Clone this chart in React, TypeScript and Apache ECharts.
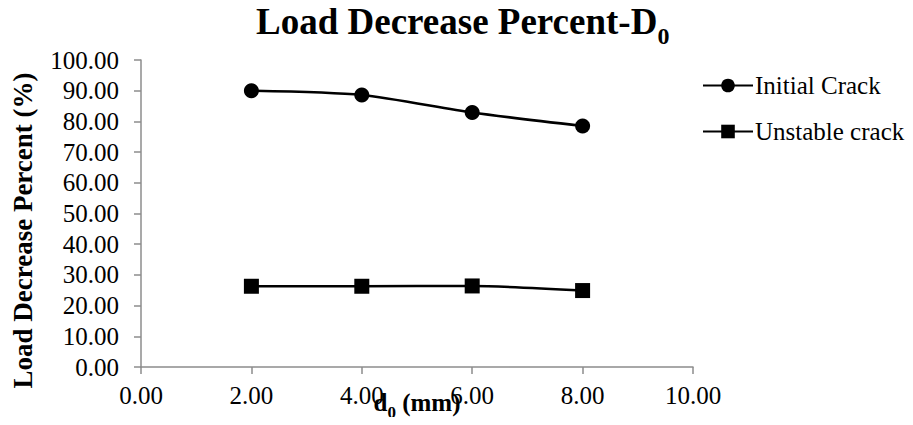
import React, { useEffect, useRef } from "react";
import * as echarts from "echarts";

const xValues = [2, 4, 6, 8];
const initialCrack = [90.0, 88.6, 82.9, 78.5];
const unstableCrack = [26.3, 26.3, 26.4, 24.9];
const seriesNames = ["Initial Crack", "Unstable crack"];

const FONT = "'Liberation Serif', 'Times New Roman', serif";

export default function App() {
  const ref = useRef<HTMLDivElement>(null);
  useEffect(() => {
    if (!ref.current) return;
    const chart = echarts.init(ref.current, undefined, { renderer: "svg" });
    const toPairs = (ys: number[]) => xValues.map((x, i) => [x, ys[i]]);
    chart.setOption({
      animation: false,
      backgroundColor: "#fff",
      textStyle: { fontFamily: FONT },
      title: {
        text: "{b|Load Decrease Percent-D}{s|0}",
        left: 256,
        top: 0,
        padding: 0,
        textStyle: {
          rich: {
            b: { fontFamily: FONT, fontWeight: "bold", fontSize: 37, color: "#000", lineHeight: 40, verticalAlign: "bottom" },
            s: { fontFamily: FONT, fontWeight: "bold", fontSize: 24, color: "#000", lineHeight: 24, verticalAlign: "bottom", padding: [0, 0, -8, 0] },
          },
        },
      },
      legend: {
        orient: "vertical",
        left: 697,
        top: 68,
        itemWidth: 50,
        itemHeight: 17,
        itemGap: 21,
        data: seriesNames,
        textStyle: { fontFamily: FONT, fontSize: 25, color: "#000", padding: [0, 0, 0, -3] },
      },
      grid: { left: 141, right: 220, top: 60, bottom: 58, outerBoundsMode: "none", containLabel: false },
      xAxis: {
        type: "value",
        min: 0,
        max: 10,
        interval: 2,
        name: "{b|d}{s|0}{b| (mm)}",
        nameLocation: "middle",
        nameGap: 22,
        nameMoveOverlap: false,
        nameTextStyle: {
          rich: {
            b: { fontFamily: FONT, fontWeight: "bold", fontSize: 25, color: "#000", lineHeight: 26, verticalAlign: "bottom" },
            s: { fontFamily: FONT, fontWeight: "bold", fontSize: 17, color: "#000", lineHeight: 17, verticalAlign: "bottom", padding: [0, 0, -6, 0] },
          },
        },
        axisLine: { lineStyle: { color: "#8c8c8c", width: 1.5 } },
        axisTick: { show: true, length: 7, lineStyle: { color: "#8c8c8c", width: 1.5 } },
        splitLine: { show: false },
        axisLabel: {
          fontFamily: FONT,
          fontSize: 25,
          color: "#000",
          margin: 16,
          formatter: (v: number) => v.toFixed(2),
        },
      },
      yAxis: {
        type: "value",
        min: 0,
        max: 100,
        interval: 10,
        name: "Load Decrease Percent (%)",
        nameLocation: "middle",
        nameGap: 105,
        nameMoveOverlap: false,
        nameTextStyle: { fontFamily: FONT, fontWeight: "bold", fontSize: 27, color: "#000", padding: [0, 34, 0, 0] },
        axisLine: { show: true, lineStyle: { color: "#8c8c8c", width: 1.5 } },
        axisTick: { show: true, length: 7, lineStyle: { color: "#8c8c8c", width: 1.5 } },
        splitLine: { show: false },
        axisLabel: {
          fontFamily: FONT,
          fontSize: 25,
          color: "#000",
          margin: 22,
          formatter: (v: number) => v.toFixed(2),
        },
      },
      series: [
        {
          name: seriesNames[0],
          type: "line",
          data: toPairs(initialCrack),
          smooth: 0.25,
          symbol: "circle",
          symbolSize: 15,
          lineStyle: { color: "#000", width: 2.5 },
          itemStyle: { color: "#000" },
        },
        {
          name: seriesNames[1],
          type: "line",
          data: toPairs(unstableCrack),
          smooth: 0.25,
          symbol: "rect",
          symbolSize: 15,
          lineStyle: { color: "#000", width: 2.5 },
          itemStyle: { color: "#000" },
        },
      ],
    });
    return () => chart.dispose();
  }, []);
  return <div ref={ref} style={{ width: 913, height: 425, margin: -8 }} />;
}
